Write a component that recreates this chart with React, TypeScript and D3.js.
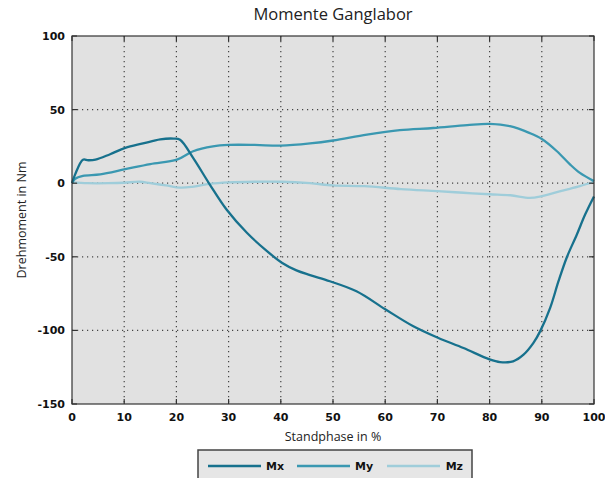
import React from "react";
import * as d3 from "d3";

// Gait-lab stance-phase moments (Nm) over stance phase (%)
const mxPhase = [0, 0.6, 2.1, 3.1, 4.5, 7.3, 10.2, 13.6, 16.9, 19.5, 20.7, 23.2, 26.4, 29.6, 33.5, 37.3, 40.2, 43, 45.6, 49.4, 54.5, 60, 65.3, 70.1, 75, 80, 82, 84.5, 86.5, 88.4, 89.7, 91.6, 93.2, 94.8, 96.7, 98.3, 100];
const mxValues = [0, 6, 16, 15.6, 16, 19.7, 24, 27, 29.8, 30.3, 29.5, 17.2, -0.9, -17.9, -33.7, -46, -54, -59.2, -62.4, -66.6, -73.4, -85.6, -97, -105, -112, -119.7, -121.5, -121, -116.5, -108.5, -100.5, -84.7, -66.6, -50.3, -35, -21.3, -9];

const myPhase = [0, 0.6, 2.1, 5.4, 10.2, 15, 20.1, 23.2, 27, 30, 35, 40, 45.6, 50, 56.5, 62.8, 69.2, 75.7, 80, 83.9, 87.7, 90, 92.9, 95.4, 97.3, 100];
const myValues = [0, 3, 5, 6, 9.5, 13, 16, 21.7, 25, 26, 26, 25.5, 27, 29, 33, 36, 37.5, 39.5, 40.3, 38.7, 34, 30, 21.7, 12.8, 7, 1.4];

const mzPhase = [0, 3, 7, 10, 13, 15, 18, 20.7, 23, 26.4, 30, 35, 40, 45.6, 50, 56, 63, 70, 75, 80, 84, 87.7, 90, 94, 97.3, 100];
const mzValues = [0.5, 0, 0, 0.3, 1, 0, -1.5, -3, -2.5, -0.5, 0.5, 1, 1, 0, -1.5, -2, -4, -5.4, -6.5, -7.5, -8.2, -10, -8.8, -5, -2, 1];

const seriesNames = ["Mx", "My", "Mz"];
const seriesColors = ["#17718d", "#3a98b1", "#9fcdda"];

const xTicks = [0, 10, 20, 30, 40, 50, 60, 70, 80, 90, 100];
const yTicks = [100, 50, 0, -50, -100, -150];

const W = 605;
const H = 478;
const plot = { left: 72, right: 594, top: 36, bottom: 404 };

export default function App() {
  const x = d3.scaleLinear().domain([0, 100]).range([plot.left, plot.right]);
  const y = d3.scaleLinear().domain([-150, 100]).range([plot.bottom, plot.top]);

  const line = d3
    .line<[number, number]>()
    .x((d) => x(d[0]))
    .y((d) => y(d[1]))
    .curve(d3.curveCatmullRom.alpha(0.5));

  const series = [
    mxPhase.map((p, i) => [p, mxValues[i]] as [number, number]),
    myPhase.map((p, i) => [p, myValues[i]] as [number, number]),
    mzPhase.map((p, i) => [p, mzValues[i]] as [number, number]),
  ];

  const tickFont = "'DejaVu Sans', Verdana, sans-serif";
  const labelFont = "'Open Sans', 'Noto Sans', sans-serif";

  const legendX = 198;
  const legendY = 450;
  const legendItemX = [208, 297, 387];

  return (
    <div style={{ position: "absolute", left: 0, top: 0, width: W, height: H, background: "#fff" }}>
      <svg width={W} height={H} style={{ display: "block" }}>
        <rect x={0} y={0} width={W} height={H} fill="#fff" />
        <text x={333} y={20} textAnchor="middle" fontFamily={labelFont} fontSize={16.5} fill="#222">
          Momente Ganglabor
        </text>

        <rect
          x={plot.left}
          y={plot.top}
          width={plot.right - plot.left}
          height={plot.bottom - plot.top}
          fill="#e1e1e1"
        />

        {/* dotted grid */}
        {xTicks.slice(1, -1).map((t) => (
          <line key={"gx" + t} x1={x(t)} x2={x(t)} y1={plot.top} y2={plot.bottom} stroke="#444" strokeWidth={1.2} strokeDasharray="1.2,3.8" />
        ))}
        {yTicks.slice(1, -1).map((t) => (
          <line key={"gy" + t} x1={plot.left} x2={plot.right} y1={y(t)} y2={y(t)} stroke="#444" strokeWidth={1.2} strokeDasharray="1.2,3.8" />
        ))}

        {/* curves */}
        {series
          .map((pts, i) => ({ pts, i }))
          .reverse()
          .map(({ pts, i }) => (
            <path key={seriesNames[i]} d={line(pts) || ""} fill="none" stroke={seriesColors[i]} strokeWidth={2.3} strokeLinejoin="round" />
          ))}

        {/* frame with inward ticks */}
        <rect
          x={plot.left}
          y={plot.top}
          width={plot.right - plot.left}
          height={plot.bottom - plot.top}
          fill="none"
          stroke="#333"
          strokeWidth={1.2}
        />
        {xTicks.map((t) => (
          <g key={"tx" + t}>
            <line x1={x(t)} x2={x(t)} y1={plot.top} y2={plot.top + 5} stroke="#333" strokeWidth={1.2} />
            <line x1={x(t)} x2={x(t)} y1={plot.bottom} y2={plot.bottom - 5} stroke="#333" strokeWidth={1.2} />
            <text x={x(t)} y={421} textAnchor="middle" fontFamily={tickFont} fontWeight="bold" fontSize={11} fill="#111">
              {t}
            </text>
          </g>
        ))}
        {yTicks.map((t) => (
          <g key={"ty" + t}>
            <line x1={plot.left} x2={plot.left + 5} y1={y(t)} y2={y(t)} stroke="#333" strokeWidth={1.2} />
            <line x1={plot.right} x2={plot.right - 5} y1={y(t)} y2={y(t)} stroke="#333" strokeWidth={1.2} />
            <text x={plot.left - 7} y={y(t) + 4} textAnchor="end" fontFamily={tickFont} fontWeight="bold" fontSize={11} fill="#111">
              {t}
            </text>
          </g>
        ))}

        <text x={333} y={441} textAnchor="middle" fontFamily={labelFont} fontSize={12.5} fill="#222">
          Standphase in %
        </text>
        <text
          transform={`translate(26,${(plot.top + plot.bottom) / 2}) rotate(-90)`}
          textAnchor="middle"
          fontFamily={labelFont}
          fontSize={12.5}
          fill="#222"
        >
          Drehmoment in Nm
        </text>

        {/* legend */}
        <rect x={legendX} y={legendY} width={274} height={40} fill="#e6e6e6" stroke="#444" strokeWidth={1.5} />
        {seriesNames.map((name, i) => (
          <g key={"lg" + name}>
            <line x1={legendItemX[i]} x2={legendItemX[i] + 53} y1={466} y2={466} stroke={seriesColors[i]} strokeWidth={2.5} />
            <text
              x={i === 2 ? legendItemX[i] + 76 : legendItemX[i] + 58}
              y={470}
              textAnchor={i === 2 ? "end" : "start"}
              fontFamily={tickFont}
              fontWeight="bold"
              fontSize={11}
              fill="#111"
            >
              {name}
            </text>
          </g>
        ))}
      </svg>
    </div>
  );
}
